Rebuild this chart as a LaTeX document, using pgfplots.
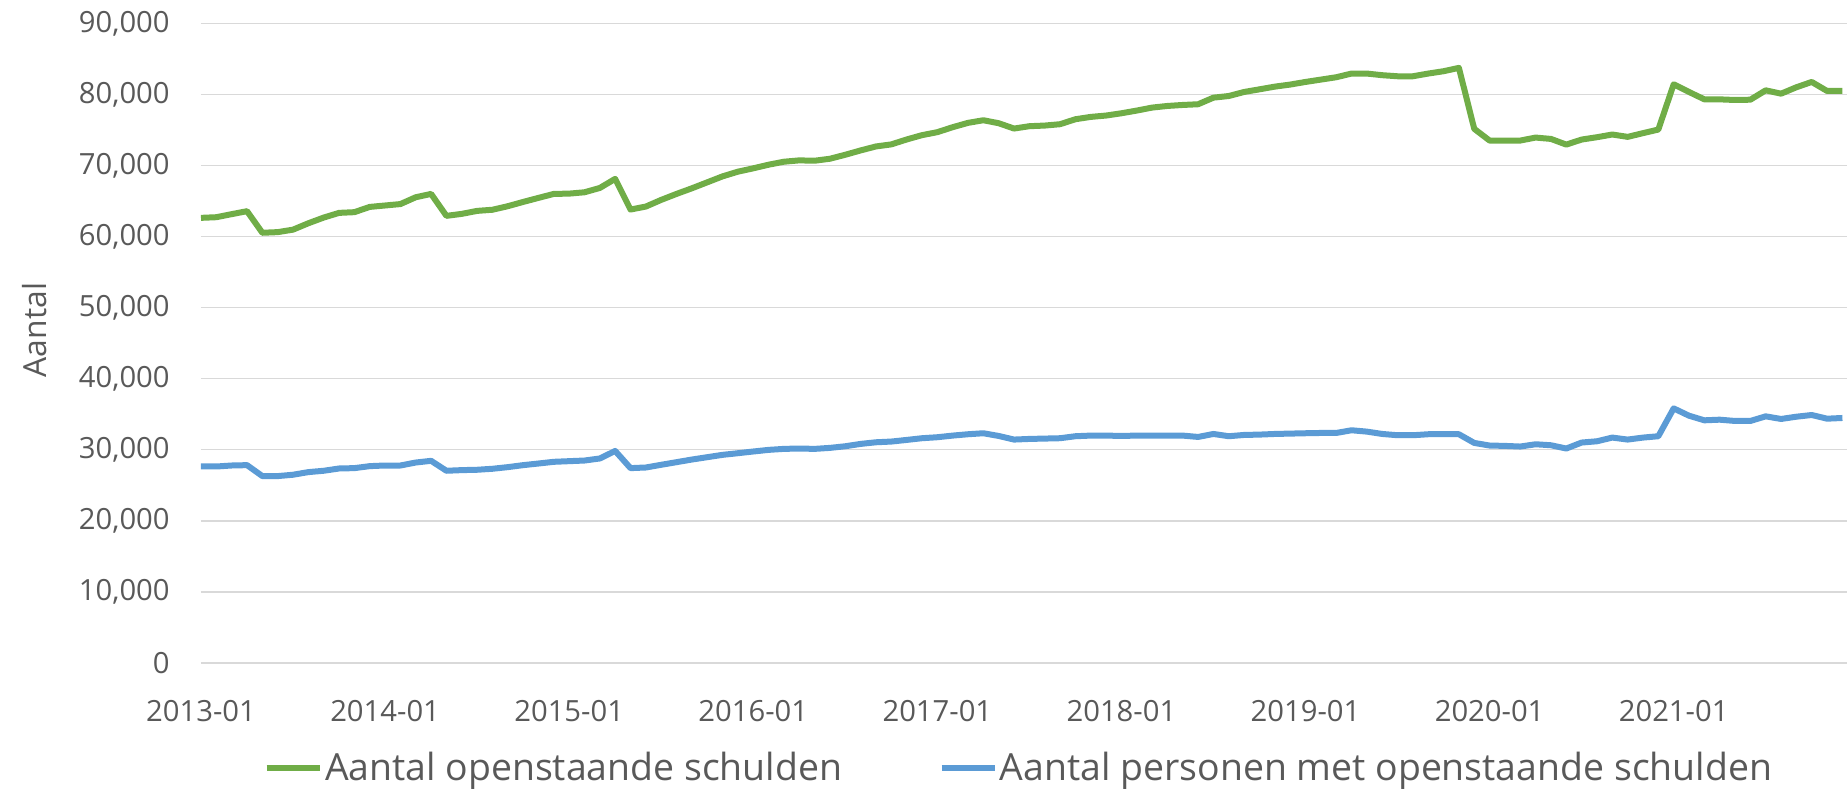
\documentclass[border=0pt]{standalone}
\usepackage{pgfplots}
\pgfplotsset{compat=1.18}
\usepackage{pgfplotstable}
\usepackage{fontspec}
\setmainfont{Open Sans}
\definecolor{cgreen}{HTML}{70AD47}
\definecolor{cblue}{HTML}{5B9BD5}
\definecolor{gridgray}{HTML}{D9D9D9}
\definecolor{textgray}{HTML}{595959}
\pgfplotstableread{
i g b
0 62660 27660
1 62750 27660
2 63180 27800
3 63600 27850
4 60560 26310
5 60650 26310
6 61000 26500
7 61900 26870
8 62700 27060
9 63360 27380
10 63460 27430
11 64200 27710
12 64400 27800
13 64600 27800
14 65560 28220
15 66030 28460
16 62940 27060
17 63220 27150
18 63640 27200
19 63800 27340
20 64300 27570
21 64900 27850
22 65470 28080
23 66030 28320
24 66070 28410
25 66260 28500
26 66870 28790
27 68150 29850
28 63830 27430
29 64250 27520
30 65190 27900
31 66030 28270
32 66820 28640
33 67660 28970
34 68500 29300
35 69160 29530
36 69630 29770
37 70140 30000
38 70560 30140
39 70750 30190
40 70700 30140
41 70980 30280
42 71540 30510
43 72150 30840
44 72710 31070
45 73000 31170
46 73690 31400
47 74300 31640
48 74720 31780
49 75420 32010
50 76030 32200
51 76400 32340
52 75980 31960
53 75230 31450
54 75560 31540
55 75650 31590
56 75840 31640
57 76540 31920
58 76870 32010
59 77060 32010
60 77380 31960
61 77760 32010
62 78180 32010
63 78410 32010
64 78550 32010
65 78650 31820
66 79580 32240
67 79810 31920
68 80380 32100
69 80750 32150
70 81130 32240
71 81420 32290
72 81790 32340
73 82120 32380
74 82450 32380
75 82970 32760
76 82970 32570
77 82740 32240
78 82590 32060
79 82590 32060
80 82970 32200
81 83300 32200
82 83770 32200
83 75190 30980
84 73540 30610
85 73540 30560
86 73540 30470
87 73960 30790
88 73770 30650
89 72970 30190
90 73680 31030
91 74010 31210
92 74390 31730
93 74060 31450
94 74580 31730
95 75090 31920
96 81460 35840
97 80380 34810
98 79340 34160
99 79340 34250
100 79250 34070
101 79290 34070
102 80610 34720
103 80140 34350
104 81040 34670
105 81790 34910
106 80520 34390
107 80520 34490
}\datatable
\begin{document}
\begin{tikzpicture}
\useasboundingbox (-100.5pt,-65pt) rectangle (823pt,331.5pt);
\begin{axis}[
  at={(0pt,0pt)}, anchor=origin,
  scale only axis,
  width=823pt, height=319.7pt,
  xmin=0, xmax=107.3,
  ymin=0, ymax=90000,
  xtick={0,12,...,96},
  xticklabels={2013-01,2014-01,2015-01,2016-01,2017-01,2018-01,2019-01,2020-01,2021-01},
  ytick={0,10000,...,90000},
  /pgf/number format/assume math mode=true,
  /pgf/number format/.cd, 1000 sep={,}, /pgfplots/.cd,
  scaled y ticks=false,
  ymajorgrids,
  grid style={draw=gridgray, line width=0.6pt},
  separate axis lines,
  axis x line*=bottom,
  axis y line*=left,
  x axis line style={draw=gridgray, line width=0.8pt, -},
  y axis line style={draw=none},
  major tick length=0pt,
  tick style={draw=none},
  tick label style={font=\fontsize{14.6}{16}\selectfont, text=textgray},
  yticklabel style={inner sep=0pt, anchor=east, xshift=-15.5pt},
  xticklabel style={inner sep=0pt, anchor=north, yshift=-18.5pt},
  ylabel={Aantal},
  every axis y label/.style={at={(axis description cs:-0.1009,0.5208)}, rotate=90, anchor=center, font=\fontsize{15.9}{18}\selectfont, text=textgray},
  legend columns=2,
  legend image code/.code={\draw[#1] (0pt,0pt) -- (26.5pt,0pt);},
  legend style={at={(axis description cs:0.497,-0.164)}, anchor=center, draw=none, fill=none,
    font=\fontsize{18.7}{20}\selectfont, text=textgray,
    nodes={inner xsep=1.2pt, inner ysep=0pt},
    /tikz/every even column/.append style={column sep=47pt}},
]
\addplot[cgreen, line width=3pt, line join=round] table[x=i, y=g] {\datatable};
\addlegendentry{Aantal openstaande schulden}
\addplot[cblue, line width=3pt, line join=round] table[x=i, y=b] {\datatable};
\addlegendentry{Aantal personen met openstaande schulden}
\end{axis}
\end{tikzpicture}
\end{document}
